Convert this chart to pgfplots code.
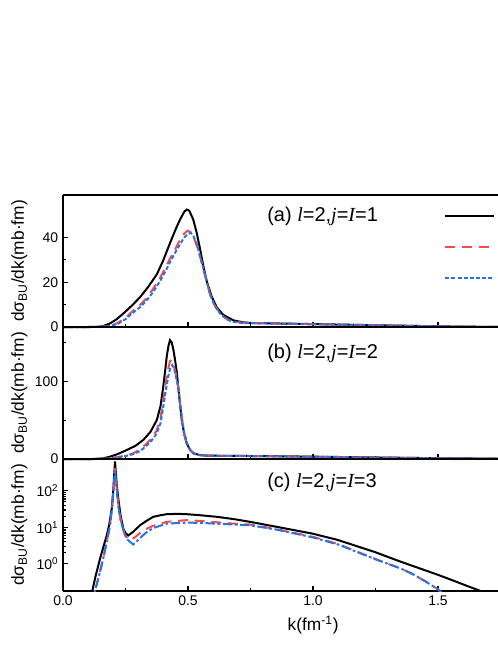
\documentclass[border=0pt]{standalone}
\usepackage{fontspec}
\setmainfont{Liberation Sans}
\newfontfamily\tnr{Liberation Serif}
\usepackage{pgfplots}
\pgfplotsset{compat=1.18}
\definecolor{cRed}{RGB}{245,75,75}
\definecolor{cBlue}{RGB}{40,115,225}
\newcommand{\vi}[1]{{\tnr\itshape #1}}

\tikzset{lab/.style={anchor=west, inner sep=0pt, font=\fontsize{15}{18}\selectfont}}
\pgfplotsset{
  panel/.style={
    scale only axis, width=326.25pt, height=99pt,
    xmin=0, xmax=1.74,
    axis x line=box, axis y line=left,
    axis line style={-, line width=0.9pt},
    tick align=inside, xtick pos=left,
    xtick={0,0.5,1,1.5}, minor x tick num=1,
    major tick length=4pt, minor tick length=2.2pt,
    tick style={black, line width=0.8pt},
    tick label style={font=\fontsize{10.5}{12}\selectfont},
    /pgf/number format/assume math mode=true,
    ylabel={dσ\textsubscript{BU}/dk(mb·fm)},
    ylabel style={font=\fontsize{13}{15}\selectfont, at={(axis description cs:-0.1,0.5)}, anchor=center},
  },
  blk/.style={black, line width=1.5pt},
  rdd/.style={cRed, line width=1.5pt, dash pattern=on 7.5pt off 5pt},
  bld/.style={cBlue, line width=1.5pt, dash pattern=on 3pt off 1.6pt},
  bldd/.style={cBlue, line width=1.5pt, dash pattern=on 7pt off 2pt on 2pt off 2pt},
}

\begin{document}
\begin{tikzpicture}
% (a)
\begin{axis}[panel, name=pa, at={(0,0)}, anchor=north west,
  ymin=0, ymax=59, ytick={0,20,40}, minor y tick num=1,
  xticklabels={}, clip=false,
  legend image code/.code={\draw[#1] (0pt,0pt) -- (36.75pt,0pt);},
  legend style={draw=none, fill=none, at={(rel axis cs:0.876,0.848)}, anchor=north west,
    inner sep=0pt, row sep=21.5pt, nodes={inner sep=0pt}},
]
\addplot[blk] coordinates {
(0,0) (0.1,0) (0.14,0.1) (0.16,0.4) (0.188,1.6) (0.215,3.5) (0.241,6) (0.275,9.5)
(0.308,13.3) (0.34,17.8) (0.375,23.5) (0.40,29.5) (0.428,37.5) (0.45,43.5) (0.468,48)
(0.485,51.5) (0.495,52.5) (0.505,52) (0.521,48) (0.535,42) (0.548,35) (0.561,27.5)
(0.575,20.4) (0.595,13.5) (0.615,8.8) (0.64,5.5) (0.681,3) (0.72,2.1) (0.75,1.8)
(0.85,1.6) (1.0,1.3) (1.2,0.9) (1.4,0.5) (1.5,0.3) (1.6,0.15) (1.74,0.05)};
\addlegendentry{}
\addplot[rdd] coordinates {
(0,0) (0.12,0) (0.17,0.3) (0.2,1) (0.215,1.6) (0.25,4) (0.281,7.4) (0.31,10)
(0.335,13) (0.36,17) (0.388,21.9) (0.41,26.5) (0.428,30.6) (0.45,35) (0.468,39)
(0.485,41.8) (0.498,43) (0.51,42.5) (0.523,40) (0.535,36.4) (0.548,31.5) (0.561,26)
(0.575,20) (0.588,14.6) (0.605,10) (0.628,6) (0.655,3.5) (0.681,2.4) (0.72,1.9)
(0.8,1.7) (1.0,1.3) (1.2,0.9) (1.4,0.5) (1.5,0.3) (1.6,0.15) (1.74,0.05)};
\addlegendentry{}
\addplot[bld] coordinates {
(0,0) (0.12,0) (0.17,0.25) (0.2,0.8) (0.22,1.5) (0.25,3.5) (0.281,6.5) (0.31,9)
(0.335,12) (0.36,15.5) (0.388,20.5) (0.41,25) (0.428,29) (0.45,33.5) (0.468,37)
(0.485,40) (0.5,41.7) (0.512,42) (0.525,40) (0.538,36) (0.55,31) (0.563,25.5)
(0.577,19.5) (0.59,14) (0.607,9.5) (0.63,5.8) (0.655,3.4) (0.681,2.3) (0.72,1.8)
(0.8,1.6) (1.0,1.25) (1.2,0.85) (1.4,0.5) (1.5,0.3) (1.6,0.15) (1.74,0.05)};
\addlegendentry{}
\node[lab] at (rel axis cs:0.469,0.84) {(a) \vi{l}=2,\vi{j}=\vi{I}=1};
\end{axis}
% (b)
\begin{axis}[panel, name=pb, at={(pa.south west)}, anchor=north west,
  ymin=0, ymax=170, ytick={0,100}, minor ytick={50,150},
  xticklabels={}, clip=false,
]
\addplot[blk] coordinates {
(0,0) (0.12,0) (0.16,0.8) (0.188,3) (0.22,6.5) (0.255,11.6) (0.29,17) (0.321,24.5)
(0.35,35) (0.375,50) (0.39,68) (0.401,93) (0.408,112) (0.415,132) (0.422,146)
(0.428,153) (0.435,150) (0.442,140) (0.448,128) (0.455,112) (0.461,93) (0.468,71)
(0.475,50) (0.485,32) (0.495,20) (0.508,12) (0.521,7.3) (0.548,5) (0.575,4.3)
(0.7,4) (0.85,3.6) (1.0,3) (1.25,2) (1.5,1) (1.74,0.4)};
\addplot[rdd] coordinates {
(0,0) (0.13,0) (0.18,0.8) (0.22,2.5) (0.25,4.5) (0.281,7.3) (0.31,12.5) (0.335,20)
(0.355,27) (0.375,37) (0.39,52) (0.401,76) (0.41,97) (0.42,115) (0.428,126)
(0.435,127.6) (0.442,122) (0.448,114) (0.455,106) (0.462,90) (0.468,72) (0.475,53)
(0.481,37) (0.493,22) (0.508,11.6) (0.525,7) (0.548,5) (0.6,4.3) (0.7,4) (0.85,3.5)
(1.0,2.9) (1.25,1.9) (1.5,1) (1.74,0.4)};
\addplot[bld] coordinates {
(0,0) (0.13,0) (0.18,0.6) (0.22,2) (0.25,3.8) (0.281,6.3) (0.31,10.5) (0.335,17.5)
(0.355,24) (0.375,33) (0.39,46) (0.401,67) (0.412,90) (0.422,108) (0.43,118)
(0.437,121) (0.444,117) (0.45,109) (0.457,98) (0.464,85) (0.47,68) (0.477,50)
(0.485,34) (0.497,20) (0.51,11) (0.528,6.5) (0.55,4.8) (0.6,4.2) (0.7,3.9)
(0.85,3.4) (1.0,2.8) (1.25,1.9) (1.5,1) (1.74,0.4)};
\node[lab] at (rel axis cs:0.469,0.80) {(b) \vi{l}=2,\vi{j}=\vi{I}=2};
\end{axis}
% (c)
\begin{axis}[panel, name=pc, at={(pb.south west)}, anchor=north west,
  ymode=log, ymin=0.18, ymax=750, ytick={1,10,100},
  yticklabels={10\textsuperscript{0},10\textsuperscript{1},10\textsuperscript{2}},
  xticklabel style={/pgf/number format/.cd, fixed, fixed zerofill, precision=1},
  xlabel={k(fm\textsuperscript{-1})},
  xlabel style={font=\fontsize{13}{15}\selectfont, at={(axis description cs:0.575,0)}, anchor=center, yshift=-25.5pt},
]
\addplot[blk] coordinates {
(0.10,0.08) (0.117,0.18) (0.13,0.45) (0.148,1.37) (0.162,3) (0.175,6) (0.185,12)
(0.195,33) (0.201,100) (0.205,300) (0.208,645) (0.211,350) (0.215,150) (0.221,63)
(0.23,22) (0.241,9.3) (0.25,7) (0.261,6) (0.28,7.5) (0.308,11.4) (0.33,14.5)
(0.361,19.5) (0.39,21.5) (0.415,23) (0.46,23.5) (0.495,23) (0.55,21.5) (0.615,19.5)
(0.68,17) (0.748,14.2) (0.85,10.5) (1.0,6.7) (1.1,4.5) (1.248,2.1) (1.35,1.15)
(1.42,0.78) (1.5,0.5) (1.56,0.35) (1.615,0.25) (1.68,0.17) (1.72,0.12)};
\addplot[rdd] coordinates {
(0.11,0.08) (0.128,0.18) (0.145,0.5) (0.161,1.4) (0.175,4) (0.188,11.4) (0.197,40)
(0.203,150) (0.208,420) (0.212,200) (0.217,80) (0.222,40) (0.228,21) (0.238,10)
(0.248,6) (0.268,4.4) (0.29,5.5) (0.321,8.3) (0.36,11) (0.415,14.2) (0.495,15.8)
(0.55,15) (0.681,12.7) (0.748,12) (0.85,9) (1.0,5.5) (1.1,3.5) (1.248,1.37)
(1.3,1.0) (1.35,0.75) (1.4,0.52) (1.45,0.33) (1.5,0.2) (1.53,0.13)};
\addplot[bldd] coordinates {
(0.11,0.08) (0.128,0.18) (0.145,0.5) (0.161,1.4) (0.175,4) (0.188,11) (0.197,38)
(0.203,140) (0.208,380) (0.212,190) (0.217,75) (0.222,35) (0.23,16) (0.245,7)
(0.26,4.5) (0.281,3.4) (0.3,4.5) (0.33,7) (0.36,9.5) (0.415,12.7) (0.495,13.5)
(0.55,13.3) (0.681,12) (0.748,11.4) (0.85,8.8) (1.0,5.3) (1.1,3.4) (1.248,1.35)
(1.3,1.0) (1.35,0.75) (1.4,0.52) (1.45,0.33) (1.5,0.2) (1.53,0.13)};
\node[lab] at (rel axis cs:0.469,0.82) {(c) \vi{l}=2,\vi{j}=\vi{I}=3};
\end{axis}
\pgfresetboundingbox
\useasboundingbox (-47.25pt,146.25pt) rectangle (326.25pt,-337.5pt);
\end{tikzpicture}
\end{document}
